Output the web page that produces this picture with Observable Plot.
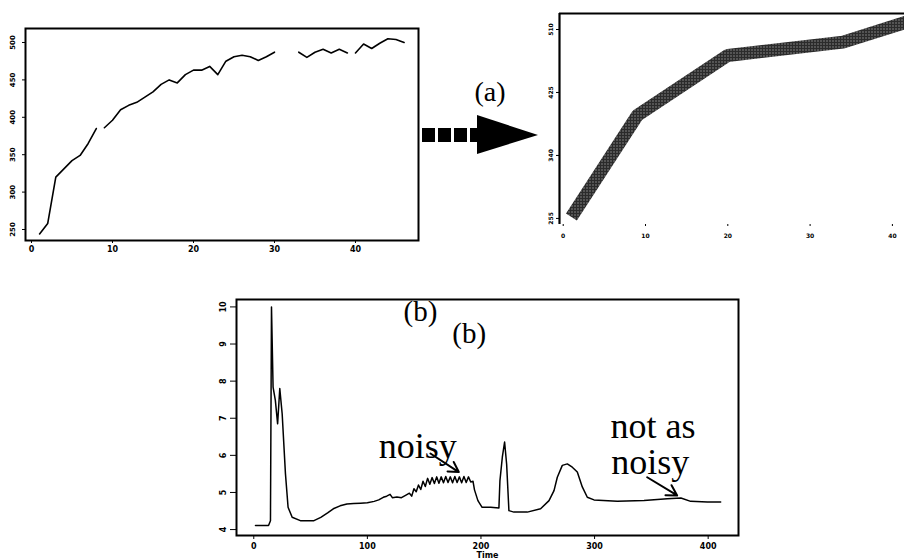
<!DOCTYPE html>
<html><head><meta charset="utf-8">
<script src="https://cdn.jsdelivr.net/npm/d3@7"></script>
<script src="https://cdn.jsdelivr.net/npm/@observablehq/plot@0.6"></script>
<style>
body{margin:0;background:#fff;}
#page{position:relative;width:904px;height:559px;overflow:hidden;background:#fff;}
.panel{position:absolute;}
</style></head><body>
<div id="page">
<svg id="deco" width="904" height="559" style="position:absolute;left:0;top:0">
  <text x="490" y="101" font-family="Liberation Serif, serif" font-size="28" text-anchor="middle">(a)</text>
  <g fill="#000">
    <rect x="422" y="128" width="13" height="14"/>
    <rect x="438" y="128" width="13" height="14"/>
    <rect x="454" y="128" width="13" height="14"/>
    <rect x="470" y="128" width="10" height="14"/>
    <polygon points="477,115 538,135 477,154"/>
  </g>
</svg>
<div id="p1" class="panel" style="left:0;top:0"></div>
<div id="p2" class="panel" style="left:540px;top:0"></div>
<div id="p3" class="panel" style="left:200px;top:290px"></div>
</div>
<script>
// Panel 1 (top left): raw series with gaps
const p1Index = [1,2,3,4,5,6,7,8,8.5,9,10,11,12,13,14,15,16,17,18,19,20,21,22,23,24,25,26,27,28,29,30,31,32,33,34,35,36,37,38,39,39.5,40,41,42,43,44,45,46];
const p1Values = [244,258,320,331,342,349,365,385,null,386,396,410,416,420,427,434,444,450,446,457,463,463,468,457,475,481,483,481,476,481,487,null,null,487,480,487,491,486,491,486,null,486,498,492,499,505,504,500];
const p1XTicks = [0,10,20,30,40];
const p1YTicks = [250,300,350,400,450,500];

// Panel 2 (top right): piecewise linear summary
const p2Index = [1,9,20,34,42];
const p2Values = [257,394,475,493,521];
const p2XTicks = [0,10,20,30,40];
const p2YTicks = [255,340,425,510];

// Panel 3 (bottom): time series
const p3Time = [1.5,13,14.7,15.6,17,19,21,22.9,25,27.9,30.2,33.8,41,53,59,65,70,76,82,88,94,100,106,110,114,117,120,122,126,130,134,137,139,141,143,145,147,149,151,153,155,157,159,161,163,165,167,169,171,173,175,177,179,181,183,185,187,189,191,193,194.3,197.3,201,208.5,215.8,216.7,218.8,220.8,222.6,224.6,229,240.8,252.5,259.9,264.3,267.2,271.6,276,280.4,284.8,289.2,293.6,299.5,320,343.5,364,376,384.6,399.3,411];
const p3Values = [4.11,4.11,4.24,10.0,7.84,7.48,6.85,7.8,7.12,5.5,4.6,4.33,4.24,4.24,4.33,4.45,4.56,4.64,4.69,4.70,4.71,4.72,4.76,4.80,4.87,4.90,4.95,4.86,4.88,4.86,4.93,4.98,4.90,5.10,5.02,5.20,5.08,5.30,5.16,5.38,5.22,5.40,5.24,5.42,5.25,5.42,5.26,5.43,5.27,5.42,5.26,5.43,5.27,5.42,5.26,5.43,5.27,5.42,5.28,5.30,5.07,4.78,4.60,4.60,4.58,5.32,5.95,6.36,5.76,4.51,4.47,4.47,4.56,4.78,5.05,5.41,5.73,5.77,5.68,5.55,5.15,4.87,4.80,4.76,4.78,4.83,4.85,4.76,4.74,4.74];
const p3XTicks = [0,100,200,300,400];
const p3YTicks = [4,5,6,7,8,9,10];
const p3AxisLabel = "Time";

// Annotations on panel 3 (data coordinates)
const noteText = ["(b)","(b)","noisy","not as","noisy"];
const noteTime = [146.7,189.7,110,314,314.6];
const noteValue = [9.86,9.27,6.25,6.79,5.80];
const arrowFrom = [[155.5,6.05],[346.3,5.41]];
const arrowTo = [[180.5,5.55],[372.7,4.92]];

const fmt = d => String(d);
const blank = () => "";
const axisStyle = {background:"transparent", fontFamily:"DejaVu Sans, sans-serif", fontWeight:"bold", overflow:"visible"};

// ---- Panel 1
const d1 = p1Index.map((t,i)=>({t, v: p1Values[i]}));
const plot1 = Plot.plot({
  width: 430, height: 262,
  marginLeft: 25, marginTop: 28, marginRight: 12, marginBottom: 22,
  x: {domain: [-0.74, 47.78]},
  y: {domain: [235.3, 518.7]},
  style: {...axisStyle, fontSize: "7px"},
  marks: [
    Plot.frame({stroke: "black", strokeWidth: 2}),
    Plot.axisX(p1XTicks, {tickSize: 3, tickPadding: 4, label: null, fontSize: 8, tickFormat: blank}),
    Plot.text(p1XTicks, {x: d => d, text: fmt, frameAnchor: "bottom", dy: 11, fontSize: 8, fontWeight: "bold", fill: "black"}),
    Plot.axisY(p1YTicks, {tickSize: 3, tickPadding: 8, tickRotate: -90, label: null, fontSize: 7, tickFormat: fmt}),
    Plot.line(d1, {x: "t", y: "v", stroke: "black", strokeWidth: 1.6})
  ]
});
document.getElementById("p1").appendChild(plot1);

// ---- Panel 2
const d2 = p2Index.map((t,i)=>({t, v: p2Values[i]}));
const x2 = [-0.45, 41.47], y2 = [246.8, 531.6];
const plot2 = Plot.plot({
  width: 364, height: 250,
  marginLeft: 19, marginTop: 13, marginRight: 0, marginBottom: 26,
  x: {domain: x2},
  y: {domain: y2},
  style: {...axisStyle, fontSize: "6px"},
  marks: [
    Plot.ruleX([x2[0]], {stroke: "black", strokeWidth: 2.2}),
    Plot.ruleY([y2[1]], {stroke: "black", strokeWidth: 2.2}),
    Plot.axisX(p2XTicks, {tickSize: 2, tickPadding: 7, label: null, fontSize: 6, tickFormat: fmt}),
    Plot.axisY(p2YTicks, {tickSize: 3, tickPadding: 4, tickRotate: -90, label: null, fontSize: 6, tickFormat: fmt}),
    Plot.line(d2, {x: "t", y: "v", stroke: "#333", strokeWidth: 13, strokeLinejoin: "bevel", strokeLinecap: "butt"})
  ]
});
const ns = "http://www.w3.org/2000/svg";
const defs = document.createElementNS(ns, "defs");
defs.innerHTML = '<pattern id="dots" width="3" height="3" patternUnits="userSpaceOnUse"><rect width="3" height="3" fill="#2b2b2b"/><rect x="1" y="1" width="1" height="1" fill="#d0d0d0"/></pattern>';
plot2.insertBefore(defs, plot2.firstChild);
plot2.querySelectorAll('g[aria-label="line"] path').forEach(p => p.setAttribute("stroke", "url(#dots)"));
document.getElementById("p2").appendChild(plot2);

// ---- Panel 3
const d3data = p3Time.map((t,i)=>({t, v: p3Values[i]}));
const notes = noteText.map((s,i)=>({s, t: noteTime[i], v: noteValue[i]}));
const arrows = arrowFrom.map((a,i)=>({x1:a[0], y1:a[1], x2:arrowTo[i][0], y2:arrowTo[i][1]}));
const plot3 = Plot.plot({
  width: 540, height: 269,
  marginLeft: 36, marginTop: 9, marginRight: 2, marginBottom: 24,
  x: {domain: [-15.2, 426.7]},
  y: {domain: [3.84, 10.2]},
  style: {...axisStyle, fontSize: "8px"},
  marks: [
    Plot.frame({stroke: "black", strokeWidth: 2}),
    Plot.axisX(p3XTicks, {tickSize: 4, tickPadding: 4, label: null, fontSize: 8, tickFormat: fmt}),
    Plot.axisY(p3YTicks, {tickSize: 6, tickPadding: 5, tickRotate: -90, label: null, fontSize: 8, tickFormat: fmt}),
    Plot.text([p3AxisLabel], {frameAnchor: "bottom", dy: 22, fontSize: 8, fontWeight: "bold"}),
    Plot.line(d3data, {x: "t", y: "v", stroke: "black", strokeWidth: 1.5}),
    Plot.text(notes.slice(0,2), {x: "t", y: "v", text: "s", fontSize: 29, fontFamily: "Liberation Serif, serif", fontWeight: "normal", textAnchor: "middle"}),
    Plot.text(notes.slice(2), {x: "t", y: "v", text: "s", fontSize: 36, fontFamily: "Liberation Serif, serif", fontWeight: "normal", textAnchor: "start"}),
    Plot.arrow(arrows, {x1: "x1", y1: "y1", x2: "x2", y2: "y2", stroke: "black", strokeWidth: 2, headLength: 14})
  ]
});
document.getElementById("p3").appendChild(plot3);
</script>
</body></html>
